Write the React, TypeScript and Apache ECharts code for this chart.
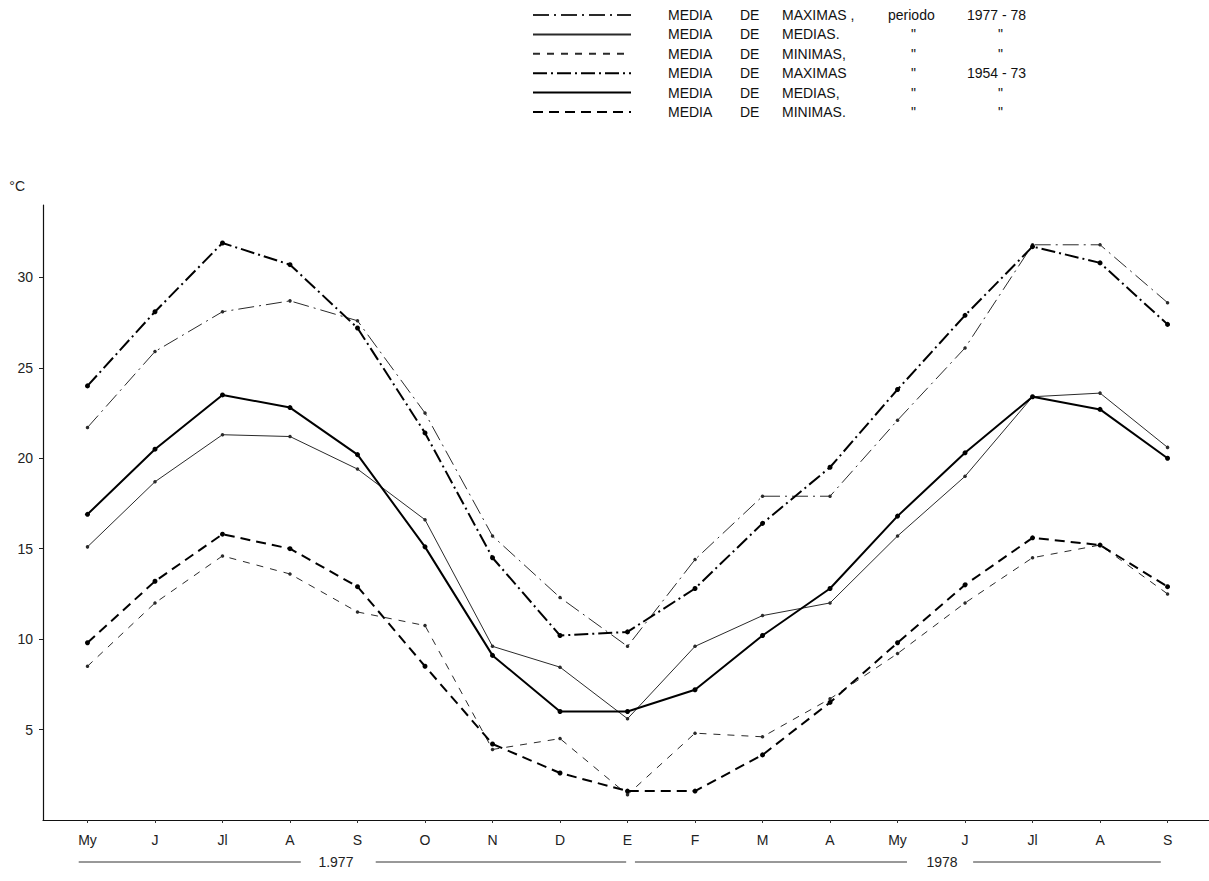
import React, { useEffect, useRef } from 'react';
import * as echarts from 'echarts';

// ---- data ----
const months = ['My', 'J', 'Jl', 'A', 'S', 'O', 'N', 'D', 'E', 'F', 'M', 'A', 'My', 'J', 'Jl', 'A', 'S'];

// periodo 1977-78
const maximas7778 = [21.7, 25.9, 28.1, 28.7, 27.6, 22.5, 15.7, 12.3, 9.6, 14.4, 17.9, 17.9, 22.1, 26.1, 31.8, 31.8, 28.6];
const medias7778 = [15.1, 18.7, 21.3, 21.2, 19.4, 16.6, 9.6, 8.45, 5.6, 9.6, 11.3, 12.0, 15.7, 19.0, 23.4, 23.6, 20.6];
const minimas7778 = [8.5, 12.0, 14.6, 13.6, 11.5, 10.75, 3.9, 4.5, 1.4, 4.8, 4.6, 6.7, 9.2, 12.0, 14.5, 15.2, 12.5];

// periodo 1954-73
const maximas5473 = [24.0, 28.1, 31.9, 30.7, 27.2, 21.4, 14.5, 10.2, 10.4, 12.8, 16.4, 19.5, 23.8, 27.9, 31.7, 30.8, 27.4];
const medias5473 = [16.9, 20.5, 23.5, 22.8, 20.2, 15.1, 9.1, 6.0, 6.0, 7.2, 10.2, 12.8, 16.8, 20.3, 23.4, 22.7, 20.0];
const minimas5473 = [9.8, 13.2, 15.8, 15.0, 12.9, 8.5, 4.2, 2.6, 1.6, 1.6, 3.6, 6.5, 9.8, 13.0, 15.6, 15.2, 12.9];

const yTicks = [5, 10, 15, 20, 25, 30];
const yUnit = '°C';
const years = ['1.977', '1978'];

const seriesIds = ['max7778', 'med7778', 'min7778', 'max5473', 'med5473', 'min5473'];
// legend texts: [name, column 2, column 3]
const legendParts = [
  ['MAXIMAS ,', 'periodo', '1977 - 78'],
  ['MEDIAS.', '"', '"'],
  ['MINIMAS,', '"', '"'],
  ['MAXIMAS', '"', '1954 - 73'],
  ['MEDIAS,', '"', '"'],
  ['MINIMAS.', '"', '"'],
];
const legendLead = ['MEDIA', 'DE'];

// ---- layout / style ----
const FONT = 'Liberation Sans, Arial, sans-serif';
const GRID = { left: 43, right: 0, top: 205, bottom: 61 };
const X_MIN = -0.659;
const X_MAX = 16.614;
const Y_MAX = 34;

// legend column start positions (px, relative to legend text start)
const COL = { media: 0, de: 72, name: 114, c2: 220, c2ditto: 243, c3: 299, c3ditto: 330 };

// year bracket positions in x-axis units
const BRACKETS = [
  { text: 0, l1: [-0.13, 3.16], t: 3.68, l2: [4.27, 7.98] },
  { text: 1, l1: [8.11, 12.14], t: 12.66, l2: [13.12, 15.9] },
];

const richStyles: Record<string, any> = {};
function tok(text: string, width?: number) {
  const key = width ? 'w' + width : 'last';
  if (!richStyles[key]) {
    richStyles[key] = { fontSize: 14, fontFamily: FONT, color: '#111', lineHeight: 16 };
    if (width) richStyles[key].width = width;
  }
  return `{${key}|${text}}`;
}
function legendRow(i: number) {
  const p = legendParts[i];
  const c2 = p[1] === '"' ? COL.c2ditto : COL.c2;
  const c3 = p[2] === '"' ? COL.c3ditto : COL.c3;
  return (
    tok(' ', 32) +
    tok(legendLead[0], COL.de - COL.media) +
    tok(legendLead[1], COL.name - COL.de) +
    tok(p[0], c2 - COL.name) +
    tok(p[1], c3 - c2) +
    tok(p[2])
  );
}
const legendTexts = seriesIds.map((_, i) => legendRow(i));

const styles = [
  { width: 1, type: [16, 5, 2, 5], color: '#2a2a2a', size: 3.5 },
  { width: 1, type: 'solid', color: '#2a2a2a', size: 3.5 },
  { width: 1, type: [7, 7], color: '#2a2a2a', size: 3.5 },
  { width: 2, type: [14, 4, 2, 4], color: '#000', size: 5 },
  { width: 2, type: 'solid', color: '#000', size: 5 },
  { width: 2, type: [10, 6], color: '#000', size: 5 },
];
const dataSets = [maximas7778, medias7778, minimas7778, maximas5473, medias5473, minimas5473];

export default function App() {
  const ref = useRef<HTMLDivElement>(null);
  useEffect(() => {
    const chart = echarts.init(ref.current!, null, { renderer: 'svg' });
    const idx = months.map((_, i) => i);
    chart.setOption({
      animation: false,
      backgroundColor: '#fff',
      grid: { ...GRID, containLabel: false },
      legend: {
        orient: 'vertical',
        left: 527,
        top: 3,
        itemWidth: 98,
        itemHeight: 14,
        itemGap: 5.4,
        selectedMode: false,
        data: seriesIds,
        itemStyle: { opacity: 0, borderWidth: 0 },
        formatter: (name: string) => legendTexts[seriesIds.indexOf(name)],
        textStyle: { fontSize: 14, fontFamily: FONT, color: '#111', rich: richStyles },
      },
      xAxis: {
        type: 'value',
        min: X_MIN,
        max: X_MAX,
        splitLine: { show: false },
        axisLine: { show: true, onZero: false, lineStyle: { color: '#111', width: 1.2 } },
        axisTick: { show: true, length: 3, customValues: idx, lineStyle: { color: '#333' } },
        axisLabel: {
          customValues: idx,
          formatter: (v: number) => months[Math.round(v)] ?? '',
          fontSize: 14,
          fontFamily: FONT,
          color: '#222',
          margin: 13,
        },
      },
      yAxis: {
        type: 'value',
        min: 0,
        max: Y_MAX,
        name: yUnit,
        nameLocation: 'end',
        nameGap: 12,
        nameTextStyle: { fontSize: 14, fontFamily: FONT, color: '#222', align: 'right', padding: [0, 18, 0, 0] },
        splitLine: { show: false },
        axisLine: { show: true, onZero: false, lineStyle: { color: '#111', width: 1.2 } },
        axisTick: { show: true, length: 4, customValues: yTicks, lineStyle: { color: '#222' } },
        axisLabel: {
          customValues: yTicks,
          fontSize: 14,
          fontFamily: FONT,
          color: '#222',
          margin: 10,
        },
      },
      series: seriesIds.map((id, k) => ({
        name: id,
        type: 'line',
        data: dataSets[k].map((v, i) => [i, v]),
        symbol: 'circle',
        symbolSize: styles[k].size,
        showSymbol: true,
        silent: true,
        emphasis: { disabled: true },
        lineStyle: { width: styles[k].width, type: styles[k].type, color: styles[k].color },
        itemStyle: { color: styles[k].color },
        z: k < 3 ? 2 : 3,
      })),
    });

    const px = (v: number) => chart.convertToPixel({ xAxisIndex: 0 }, v) as number;
    const y0 = chart.convertToPixel({ yAxisIndex: 0 }, 0) as number;
    const yRow = y0 + 42;
    const graphics: any[] = [];
    BRACKETS.forEach((b) => {
      [b.l1, b.l2].forEach((l) => {
        graphics.push({
          type: 'line',
          silent: true,
          shape: { x1: px(l[0]), y1: yRow, x2: px(l[1]), y2: yRow },
          style: { stroke: '#333', lineWidth: 1 },
        });
      });
      graphics.push({
        type: 'text',
        silent: true,
        x: px(b.t),
        y: yRow,
        style: { text: years[b.text], fontSize: 14, fontFamily: FONT, fill: '#222', align: 'center', verticalAlign: 'middle' },
      });
    });
    chart.setOption({ graphic: graphics });
    return () => chart.dispose();
  }, []);
  return (
    <div
      ref={ref}
      style={{ position: 'fixed', left: 0, top: 0, width: 1209, height: 881, background: '#fff' }}
    />
  );
}
